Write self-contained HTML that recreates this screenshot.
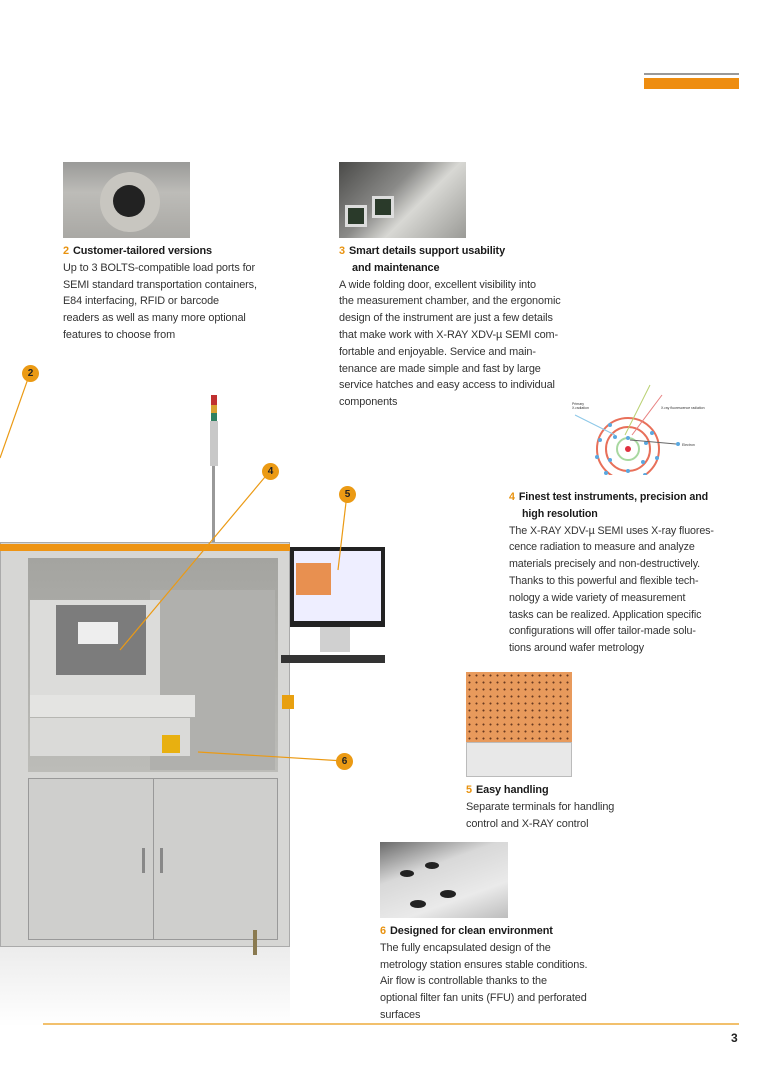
<!DOCTYPE html>
<html><head><meta charset="utf-8"><style>
*{margin:0;padding:0;box-sizing:border-box}
body{width:760px;height:1075px;background:#fff;position:relative;overflow:hidden;font-family:"Liberation Sans",sans-serif;color:#333}
.a{position:absolute}
.t{position:absolute;font-size:10.9px;line-height:16.8px;white-space:nowrap;letter-spacing:-0.1px}
.t b{color:#1a1a1a;font-weight:bold}
.t .n{color:#e8920f;font-weight:bold;margin-right:4px}
.c{position:absolute;width:17px;height:17px;border-radius:50%;background:#eb9a14;color:#222;font-weight:bold;font-size:10px;text-align:center;line-height:17px}
</style></head><body>
<div class="a" style="left:644px;top:73px;width:95px;height:2px;background:#999"></div>
<div class="a" style="left:644px;top:78px;width:95px;height:11px;background:#ee8d10"></div>

<!-- image 2 -->
<div class="a" style="left:63px;top:162px;width:127px;height:76px;background:linear-gradient(180deg,#9a9a98,#bdbcb8 40%,#a9a8a4);"></div>
<div class="a" style="left:100px;top:172px;width:60px;height:60px;border-radius:50%;background:#c8c6c0"></div>
<div class="a" style="left:113px;top:185px;width:32px;height:32px;border-radius:50%;background:#222"></div>
<div class="t" style="left:63px;top:243px"><span class="n">2</span><b>Customer-tailored versions</b><br>Up to 3 BOLTS-compatible load ports for<br>SEMI standard transportation containers,<br>E84 interfacing, RFID or barcode<br>readers as well as many more optional<br>features to choose from</div>

<!-- image 3 -->
<div class="a" style="left:339px;top:162px;width:127px;height:76px;background:linear-gradient(135deg,#4a4a48,#8a8a88 40%,#d8d8d4 60%,#9a9a96)"></div>
<div class="a" style="left:345px;top:205px;width:22px;height:22px;background:#2a3a2a;border:3px solid #ddd"></div>
<div class="a" style="left:372px;top:196px;width:22px;height:22px;background:#2a3a2a;border:3px solid #ddd"></div>
<div class="t" style="left:339px;top:243px"><span class="n">3</span><b>Smart details support usability</b><br><b style="margin-left:13px">and maintenance</b><br>A wide folding door, excellent visibility into<br>the measurement chamber, and the ergonomic<br>design of the instrument are just a few details<br>that make work with X-RAY XDV-µ SEMI com-<br>fortable and enjoyable. Service and main-<br>tenance are made simple and fast by large<br>service hatches and easy access to individual<br>components</div>

<!-- atom -->
<svg class="a" style="left:560px;top:375px" width="150" height="100" viewBox="560 375 150 100">
<circle cx="628" cy="449" r="31" fill="none" stroke="#e8705a" stroke-width="2"/>
<circle cx="628" cy="449" r="22" fill="none" stroke="#e8705a" stroke-width="2"/>
<circle cx="628" cy="449" r="11" fill="none" stroke="#a8d8a0" stroke-width="2"/>
<circle cx="628" cy="449" r="3" fill="#e03040"/>
<g fill="#5aa8e0"><circle cx="610" cy="425" r="2"/><circle cx="600" cy="440" r="2"/><circle cx="597" cy="457" r="2"/><circle cx="606" cy="473" r="2"/><circle cx="625" cy="480" r="2"/><circle cx="645" cy="475" r="2"/><circle cx="657" cy="458" r="2"/><circle cx="652" cy="433" r="2"/><circle cx="615" cy="437" r="2"/><circle cx="610" cy="460" r="2"/><circle cx="628" cy="471" r="2"/><circle cx="643" cy="462" r="2"/><circle cx="646" cy="443" r="2"/><circle cx="628" cy="438" r="2"/><circle cx="678" cy="444" r="2"/></g>
<path d="M575 415 L615 435" stroke="#8cc8e8" fill="none"/>
<path d="M625 435 L650 385" stroke="#b8d070" fill="none"/>
<path d="M632 435 L662 395" stroke="#e88080" fill="none"/>
<path d="M630 440 L676 444" stroke="#666" fill="none"/>
<text x="572" y="405" font-size="3.5" fill="#333" font-family="Liberation Sans">Primary</text>
<text x="572" y="409" font-size="3.5" fill="#333" font-family="Liberation Sans">X-radiation</text>
<text x="661" y="409" font-size="3.5" fill="#333" font-family="Liberation Sans">X-ray fluorescence radiation</text>
<text x="682" y="446" font-size="3.5" fill="#333" font-family="Liberation Sans">Electron</text>
</svg>

<div class="t" style="left:509px;top:489px;font-size:10.7px"><span class="n">4</span><b>Finest test instruments, precision and</b><br><b style="margin-left:13px">high resolution</b><br>The X-RAY XDV-µ SEMI uses X-ray fluores-<br>cence radiation to measure and analyze<br>materials precisely and non-destructively.<br>Thanks to this powerful and flexible tech-<br>nology a wide variety of measurement<br>tasks can be realized. Application specific<br>configurations will offer tailor-made solu-<br>tions around wafer metrology</div>

<!-- image 5 -->
<div class="a" style="left:466px;top:672px;width:106px;height:70px;background:#e89a5c;background-image:radial-gradient(#6a3a20 0.8px,transparent 1.2px);background-size:7px 7px"></div>
<div class="a" style="left:466px;top:742px;width:106px;height:35px;background:#e8e8e8;border:1px solid #bbb"></div>
<div class="t" style="left:466px;top:782px"><span class="n">5</span><b>Easy handling</b><br>Separate terminals for handling<br>control and X-RAY control</div>

<!-- image 6 -->
<div class="a" style="left:380px;top:842px;width:128px;height:76px;background:linear-gradient(160deg,#6a6a6a,#d8d8d8 35%,#eaeaea 70%,#bdbdbd)"></div>
<div class="a" style="left:400px;top:870px;width:14px;height:7px;border-radius:50%;background:#222"></div>
<div class="a" style="left:425px;top:862px;width:14px;height:7px;border-radius:50%;background:#222"></div>
<div class="a" style="left:440px;top:890px;width:16px;height:8px;border-radius:50%;background:#222"></div>
<div class="a" style="left:410px;top:900px;width:16px;height:8px;border-radius:50%;background:#222"></div>
<div class="t" style="left:380px;top:923px"><span class="n">6</span><b>Designed for clean environment</b><br>The fully encapsulated design of the<br>metrology station ensures stable conditions.<br>Air flow is controllable thanks to the<br>optional filter fan units (FFU) and perforated<br>surfaces</div>

<!-- machine -->
<div class="a" style="left:0;top:542px;width:290px;height:405px;background:#d6d6d4;border:1px solid #aaa"></div>
<div class="a" style="left:0;top:544px;width:290px;height:7px;background:#ee9414"></div>
<div class="a" style="left:28px;top:558px;width:250px;height:214px;background:linear-gradient(180deg,#a4a4a0,#bcbcb8)"></div>
<div class="a" style="left:150px;top:590px;width:125px;height:180px;background:#b0b0ad"></div>
<div class="a" style="left:30px;top:600px;width:130px;height:95px;background:#dcdcda"></div>
<div class="a" style="left:56px;top:605px;width:90px;height:70px;background:#7c7c7c"></div>
<div class="a" style="left:78px;top:622px;width:40px;height:22px;background:#eee"></div>
<div class="a" style="left:30px;top:695px;width:165px;height:22px;background:#e4e4e2"></div>
<div class="a" style="left:30px;top:718px;width:160px;height:38px;background:#dadad8"></div>
<div class="a" style="left:162px;top:735px;width:18px;height:18px;background:#e8b010"></div>
<div class="a" style="left:28px;top:778px;width:250px;height:162px;background:#cfcfcd;border:1px solid #999"></div>
<div class="a" style="left:153px;top:778px;width:1px;height:162px;background:#999"></div>
<div class="a" style="left:142px;top:848px;width:3px;height:25px;background:#888"></div>
<div class="a" style="left:160px;top:848px;width:3px;height:25px;background:#888"></div>
<div class="a" style="left:282px;top:695px;width:12px;height:14px;background:#e8a010"></div>
<div class="a" style="left:0;top:947px;width:290px;height:80px;background:linear-gradient(180deg,#ececec,#fff)"></div>
<div class="a" style="left:253px;top:930px;width:4px;height:25px;background:#8a7a50"></div>
<div class="a" style="left:211px;top:395px;width:6px;height:10px;background:#c03030"></div>
<div class="a" style="left:211px;top:405px;width:6px;height:8px;background:#d8a030"></div>
<div class="a" style="left:211px;top:413px;width:6px;height:8px;background:#308060"></div>
<div class="a" style="left:210px;top:421px;width:8px;height:45px;background:#c8c8c8"></div>
<div class="a" style="left:212px;top:466px;width:3px;height:76px;background:#999"></div>
<!-- monitor -->
<div class="a" style="left:290px;top:547px;width:95px;height:80px;background:#222"></div>
<div class="a" style="left:294px;top:551px;width:87px;height:70px;background:#eef"></div>
<div class="a" style="left:296px;top:563px;width:35px;height:32px;background:#e89050"></div>
<div class="a" style="left:320px;top:627px;width:30px;height:25px;background:#d0d0d0"></div>
<div class="a" style="left:281px;top:655px;width:104px;height:8px;background:#333"></div>

<!-- callouts -->
<svg class="a" style="left:0;top:0" width="760" height="1075">
<g stroke="#eb9a14" stroke-width="1.2" fill="none">
<line x1="30" y1="373" x2="0" y2="458"/>
<line x1="270" y1="471" x2="120" y2="650"/>
<line x1="347" y1="494" x2="338" y2="570"/>
<line x1="344" y1="761" x2="198" y2="752"/>
<line x1="43" y1="1024" x2="739" y2="1024"/>
</g></svg>
<div class="c" style="left:22px;top:365px">2</div>
<div class="c" style="left:262px;top:463px">4</div>
<div class="c" style="left:339px;top:486px">5</div>
<div class="c" style="left:336px;top:753px">6</div>
<div class="a" style="left:731px;top:1031px;font-size:12px;font-weight:bold;color:#222">3</div>
</body></html>
